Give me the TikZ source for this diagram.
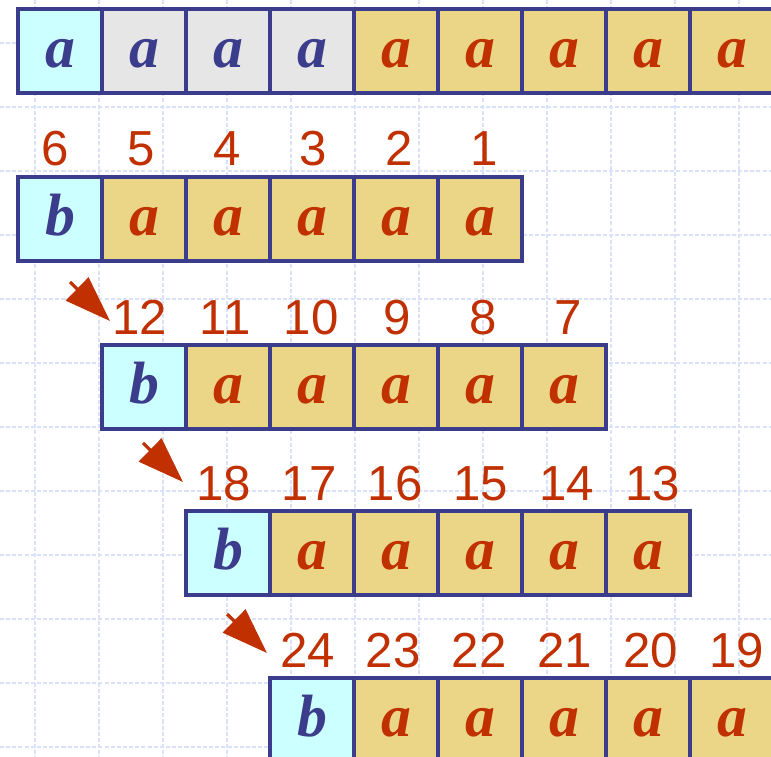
\documentclass[tikz,border=0pt]{standalone}
\usepackage{fontspec}
\usetikzlibrary{arrows.meta, calc, positioning}
\newfontfamily\lettfont{Liberation Serif}
\newfontfamily\numfont{Liberation Sans}
\definecolor{gridblue}{HTML}{DAE1FA}
\definecolor{cellblue}{HTML}{3C3C8C}
\definecolor{cellcyan}{HTML}{CCFFFF}
\definecolor{cellgray}{HTML}{E6E6E6}
\definecolor{cellsand}{HTML}{EBD687}
\definecolor{numred}{HTML}{C03000}
\tikzset{
  every picture/.style={line cap=butt, line join=miter},
  gridline/.style={gridblue, line width=0.75pt, dash pattern=on 2.3pt off 1.2pt},
  % one square of a string; baseline of the letter sits low in the box
  cell/.style={draw=cellblue, line width=2pt, minimum size=1.68cm, inner sep=0pt,
    outer sep=0pt, anchor=north west, text height=0.68cm, text depth=0cm,
    font=\lettfont\fontsize{34}{34}\selectfont\bfseries\itshape},
  acell/.style={cell, fill=cellsand, text=numred},
  bcell/.style={cell, fill=cellcyan, text=cellblue},
  idx/.style={anchor=base, text=numred, inner sep=0pt,
    font=\numfont\fontsize{28}{28}\selectfont},
  hop/.style={numred, line width=1.8pt, -{Triangle[length=0.92cm, width=0.64cm]}},
}
\begin{document}
\begin{tikzpicture}[x=0.02cm, y=-0.02cm]
  \useasboundingbox (0,0) rectangle (771,757);
  \clip (0,0) rectangle (771,757);
  % ---------- background grid
  \foreach \gx in {35,99,...,739} \draw[gridline] (\gx,0) -- (\gx,757);
  \foreach \gy in {43,107,...,747} \draw[gridline] (0,\gy) -- (771,\gy);
  % ---------- the text: a a a a ...
  \foreach \i/\fc/\tc in {1/cellcyan/cellblue, 2/cellgray/cellblue, 3/cellgray/cellblue,
      4/cellgray/cellblue, 5/cellsand/numred, 6/cellsand/numred, 7/cellsand/numred,
      8/cellsand/numred, 9/cellsand/numred}
    \node[cell, fill=\fc, text=\tc] (t\i) at ({18+84*(\i-1)}, 9) {a};
  % ---------- pattern b a a a a a, shifted one step each row, compared right to left
  \foreach \r/\px/\py/\n in {2/18/177/6, 3/102/345/12, 4/186/511/18, 5/270/678/24}{
    \node[bcell] (p\r-0) at (\px,\py) {b};
    \node[idx] (n\r-0) at ({\px+37.5}, {\py-11}) {\n};
    \foreach \k in {1,...,5}{
      \pgfmathtruncatemacro\num{\n-\k}
      \node[acell] (p\r-\k) at ({\px+84*\k}, \py) {a};
      \node[idx] (n\r-\k) at ({\px+37.5+85.8*\k}, {\py-11}) {\num};
    }
  }
  % ---------- shift arrows
  \foreach \r/\sx/\sy/\tx/\ty in {3/70/282/110/321, 4/143/443/183/482, 5/227/614/267/653}{
    \coordinate (from\r) at (\sx,\sy);
    \coordinate (to\r) at (\tx,\ty);
    \draw[hop] (from\r) -- (to\r);
  }
\end{tikzpicture}
\end{document}
